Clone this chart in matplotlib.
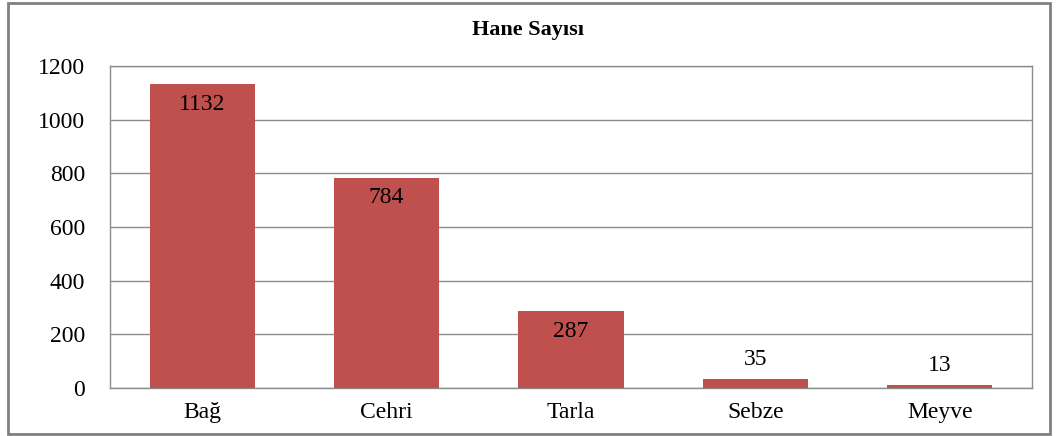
import matplotlib
matplotlib.use("Agg")
import matplotlib.pyplot as plt
from matplotlib.patches import Rectangle

categories = ["Bağ", "Cehri", "Tarla", "Sebze", "Meyve"]
values = [1132, 784, 287, 35, 13]
yticks = [0, 200, 400, 600, 800, 1000, 1200]

plt.rcParams["font.family"] = ["Liberation Serif", "DejaVu Serif"]

fig = plt.figure(figsize=(10.57, 4.36), dpi=100)
# outer chart border
fig.patches.append(Rectangle((8 / 1057, 2 / 436), 1042 / 1057, 431 / 436,
                             transform=fig.transFigure, fill=False,
                             edgecolor="#808080", linewidth=2))
ax = fig.add_axes([110 / 1057, 48 / 436, 922 / 1057, 322 / 436])

x = range(len(categories))
ax.bar(x, values, width=0.57, color="#C0504D", zorder=3)
ax.set_xlim(-0.5, len(categories) - 0.5)
ax.set_ylim(0, 1200)
ax.set_yticks(yticks)
ax.set_yticklabels([str(t) for t in yticks], fontsize=17)
ax.set_xticks(list(x))
ax.set_xticklabels(categories, fontsize=17)
ax.tick_params(axis="y", length=0, pad=18)
ax.tick_params(axis="x", length=0, pad=10)
ax.grid(axis="y", color="#8c8c8c", linewidth=1, zorder=0)
for s in ax.spines.values():
    s.set_color("#8c8c8c")
    s.set_linewidth(1)

# value labels: inside the top of tall bars, above the short ones
for i, v in enumerate(values):
    if v > 100:
        ax.text(i, v - 75, str(v), ha="center", va="center", fontsize=17)
    else:
        ax.text(i, v + 70, str(v), ha="center", va="center", fontsize=17)

fig.text(0.5, 1 - 30 / 436, "Hane Sayısı", ha="center", va="center",
         fontsize=16, fontweight="bold")

fig.savefig("out.png", dpi=100)
